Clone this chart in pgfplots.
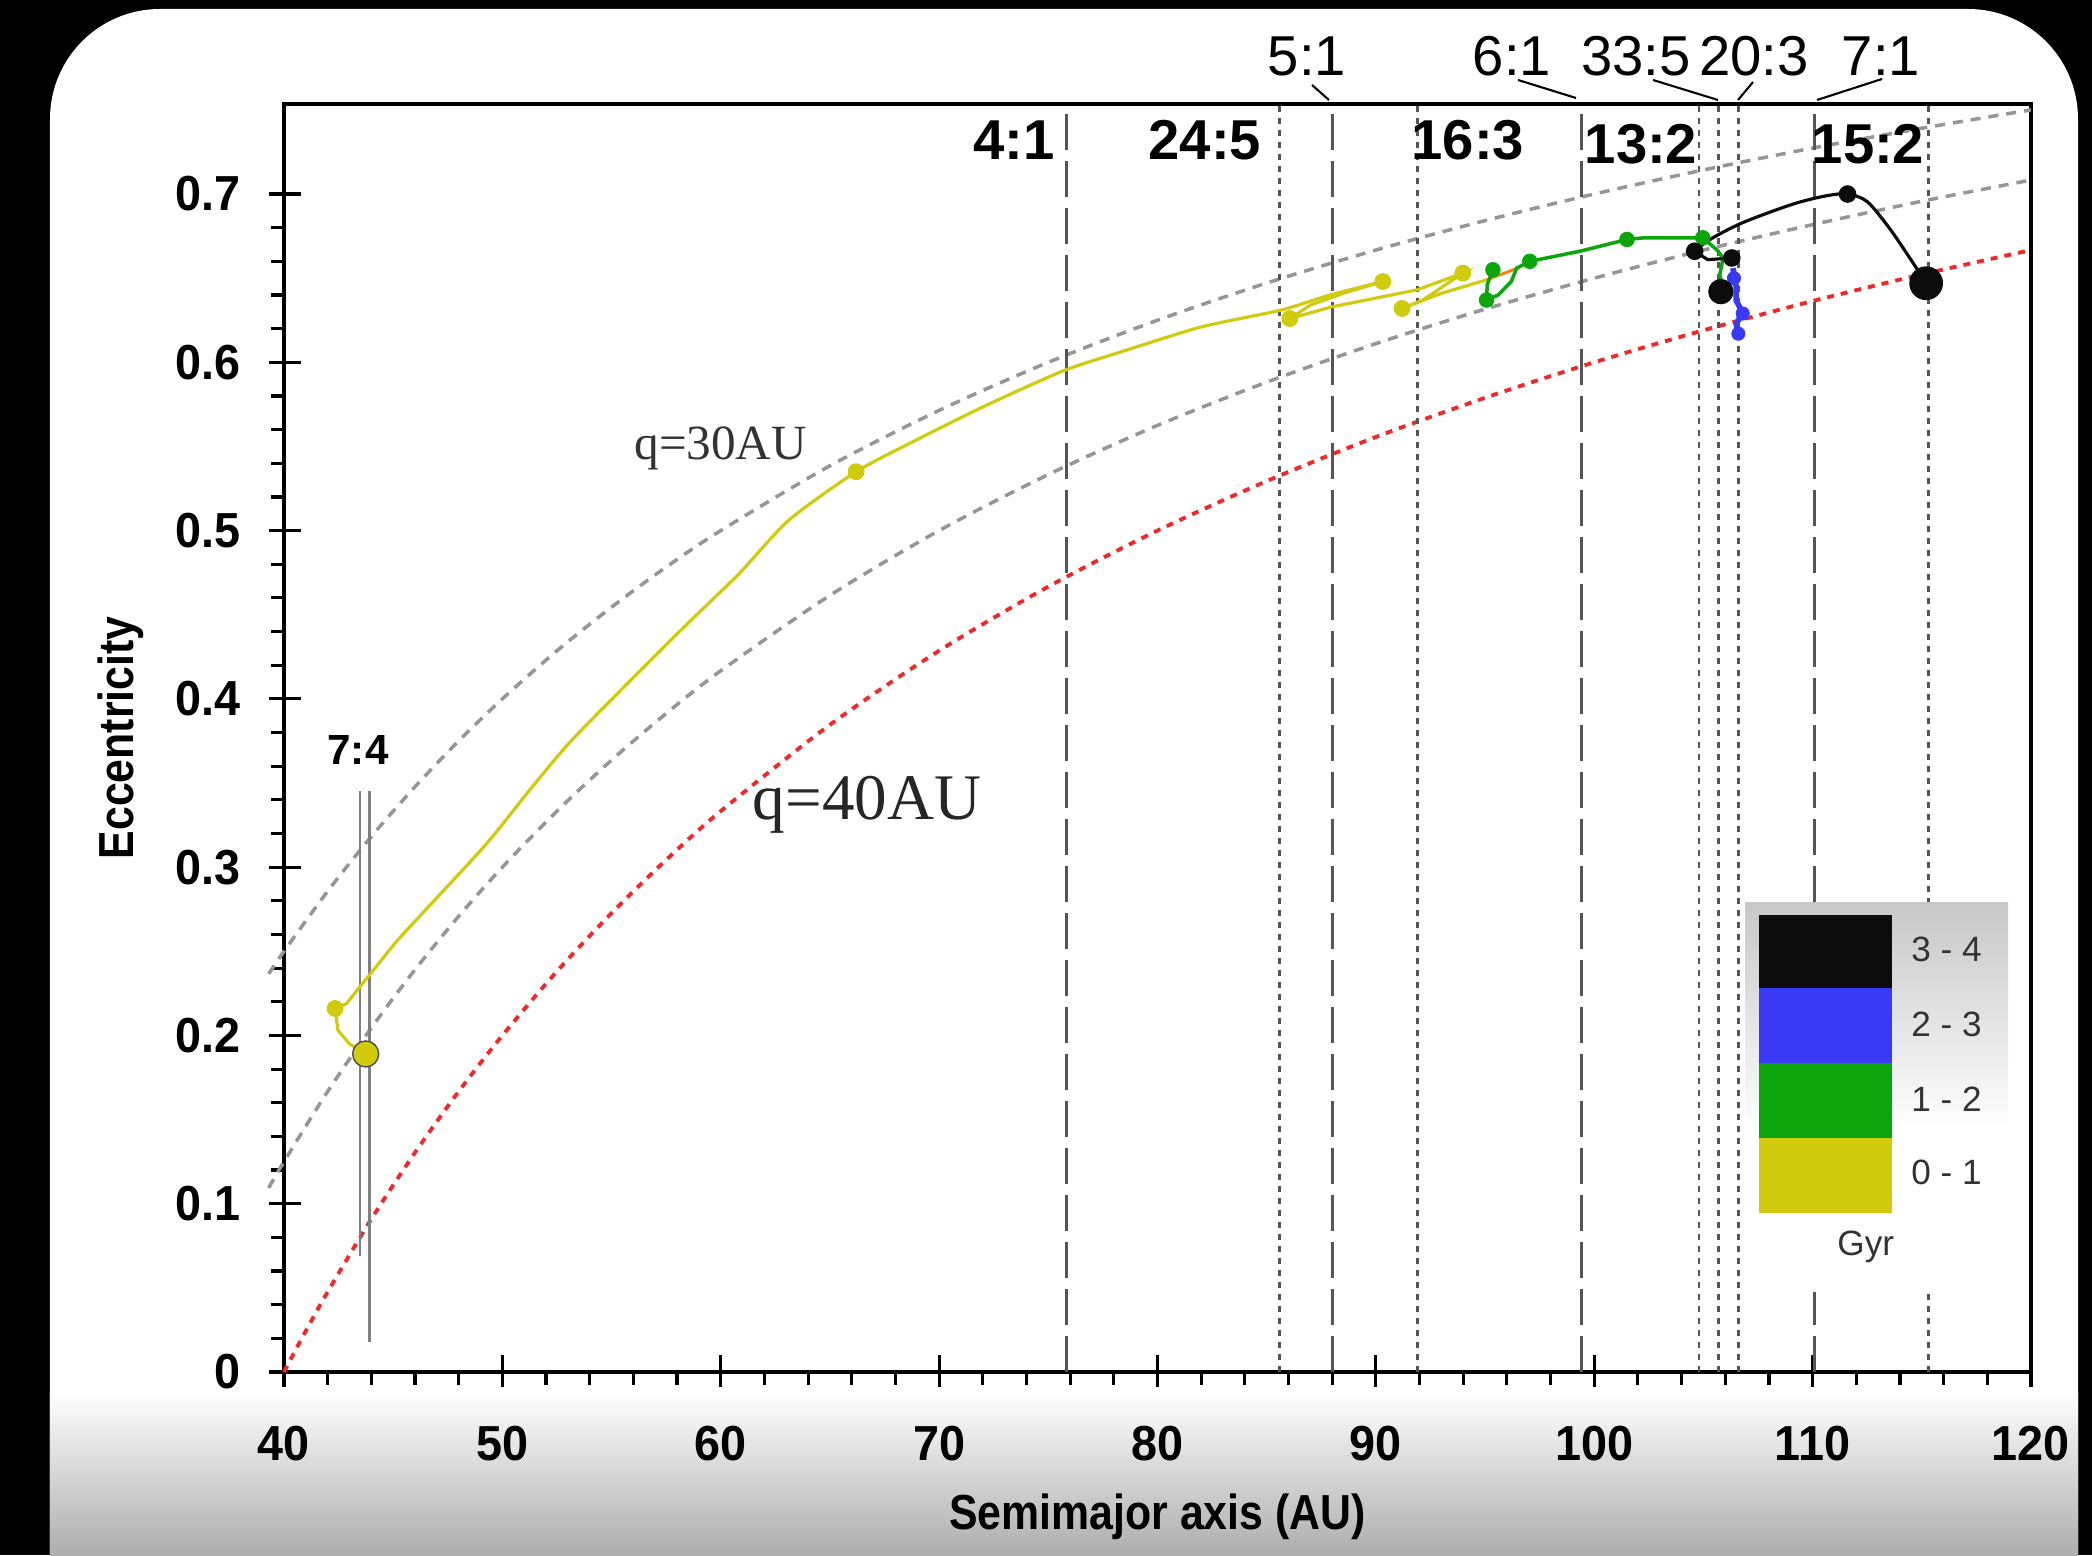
\documentclass[border=0pt]{standalone}
\usepackage{pgfplots}
\pgfplotsset{compat=1.18}
\usepackage{fontspec}
\setmainfont{Liberation Sans}
\newfontfamily\narrowsans[FakeStretch=0.87]{Liberation Sans}
\newfontfamily\ticksans[FakeStretch=0.95]{Liberation Sans}
\newfontfamily\timesq{Liberation Serif}
\definecolor{trkyellow}{RGB}{208,203,12}
\definecolor{trkgreen}{RGB}{12,165,12}
\definecolor{trkblue}{RGB}{58,58,245}
\definecolor{trkblack}{RGB}{12,12,12}
\definecolor{resgray}{RGB}{85,85,85}
\definecolor{qgray}{RGB}{150,150,150}
\definecolor{qred}{RGB}{240,40,40}
\begin{document}
\begin{tikzpicture}
% card on black page, grey fade at the bottom
\begin{scope}
\clip (-2.84,-1.83) rectangle (18.08,13.72);
\fill[black] (-2.84,-1.83) rectangle (18.08,13.72);
\fill[white, rounded corners=1.1cm] (-2.34,-3) rectangle (17.94,13.63);
\shade[top color=white, bottom color=black!32] (-2.34,-1.83) rectangle (17.94,-0.2);
\end{scope}
\begin{axis}[
    scale only axis,
    width=17.47cm, height=12.68cm,
    xmin=40, xmax=120, ymin=0, ymax=0.7535,
    clip=false,
    xtick={40,50,...,120},
    ytick={0,0.1,0.2,0.3,0.4,0.5,0.6,0.7},
    minor x tick num=4, minor y tick num=4,
    xtick pos=left, ytick pos=left,
    tick align=outside,
    major tick length=0.15cm, minor tick length=0.13cm,
    tick style={black, line width=0.9pt},
    axis line style={line width=1.2pt},
    extra x ticks={40,50,...,120}, extra x tick labels={},
    extra y ticks={0,0.1,0.2,0.3,0.4,0.5,0.6,0.7}, extra y tick labels={},
    extra tick style={tick align=inside, major tick length=0.17cm},
    /pgf/number format/fixed,
    /pgf/number format/assume math mode=true,
    ticklabel style={font=\ticksans\bfseries\fontsize{14}{16}\selectfont},
    xticklabel style={yshift=-0.27cm},
    yticklabel style={xshift=-0.16cm},
    xlabel={Semimajor axis (AU)},
    ylabel={Eccentricity},
    label style={font=\narrowsans\bfseries\fontsize{14}{16}\selectfont},
    xlabel style={at={(axis description cs:0.5,-0.114)}, anchor=center},
    ylabel style={at={(axis description cs:-0.0935,0.5)}, anchor=center},
]
% perihelion curves q = 30, 35, 40 AU
\addplot[qgray, line width=1pt, dash pattern=on 0.1cm off 0.08cm, smooth] coordinates {
 (39.3,0.2366) (40,0.25) (42,0.2857) (44,0.3182) (46,0.3478) (48,0.375) (50,0.4)
 (52.5,0.4286) (55,0.4545) (57.5,0.4783) (60,0.5) (65,0.5385) (70,0.5714) (75,0.6)
 (80,0.625) (85,0.6471) (90,0.6667) (95,0.6842) (100,0.7) (105,0.7143) (110,0.7273)
 (115,0.7391) (120,0.75)};
\addplot[qgray, line width=1pt, dash pattern=on 0.1cm off 0.08cm, smooth] coordinates {
 (39.3,0.1094) (40,0.125) (42,0.1667) (44,0.2045) (46,0.2391) (48,0.2708) (50,0.3)
 (52.5,0.3333) (55,0.3636) (57.5,0.3913) (60,0.4167) (65,0.4615) (70,0.5) (75,0.5333)
 (80,0.5625) (85,0.5882) (90,0.6111) (95,0.6316) (100,0.65) (105,0.6667) (110,0.6818)
 (115,0.6957) (120,0.7083)};
\addplot[qred, line width=1.1pt, dash pattern=on 0.07cm off 0.07cm, smooth] coordinates {
 (40,0) (41,0.0244) (42,0.0476) (44,0.0909) (46,0.1304) (48,0.1667) (50,0.2)
 (52.5,0.2381) (55,0.2727) (57.5,0.3043) (60,0.3333) (65,0.3846) (70,0.4286) (75,0.4667)
 (80,0.5) (85,0.5294) (90,0.5556) (95,0.5789) (100,0.6) (105,0.619) (110,0.6364)
 (115,0.6522) (120,0.6667)};
% resonances: long dashes
\addplot[resgray, line width=0.9pt, dash pattern=on 0.36cm off 0.11cm] coordinates {(75.85,0) (75.85,0.7535)};
\addplot[resgray, line width=0.9pt, dash pattern=on 0.36cm off 0.11cm] coordinates {(88.0,0) (88.0,0.7535)};
\addplot[resgray, line width=0.9pt, dash pattern=on 0.36cm off 0.11cm] coordinates {(99.4,0) (99.4,0.7535)};
\addplot[resgray, line width=0.9pt, dash pattern=on 0.36cm off 0.11cm] coordinates {(110.1,0) (110.1,0.7535)};
% resonances: dotted
\addplot[resgray, line width=0.8pt, dash pattern=on 0.06cm off 0.06cm] coordinates {(85.6,0) (85.6,0.7535)};
\addplot[resgray, line width=0.8pt, dash pattern=on 0.06cm off 0.06cm] coordinates {(91.9,0) (91.9,0.7535)};
\addplot[resgray, line width=0.8pt, dash pattern=on 0.06cm off 0.06cm] coordinates {(104.8,0) (104.8,0.7535)};
\addplot[resgray, line width=0.8pt, dash pattern=on 0.06cm off 0.06cm] coordinates {(105.7,0) (105.7,0.7535)};
\addplot[resgray, line width=0.8pt, dash pattern=on 0.06cm off 0.06cm] coordinates {(106.6,0) (106.6,0.7535)};
\addplot[resgray, line width=0.8pt, dash pattern=on 0.06cm off 0.06cm] coordinates {(115.3,0) (115.3,0.7535)};
% 7:4 libration range
\addplot[black!50, line width=0.8pt] coordinates {(43.48,0.069) (43.48,0.345)};
\addplot[black!50, line width=0.8pt] coordinates {(43.91,0.018) (43.91,0.345)};
% yellow track (0-1 Gyr)
\addplot[trkyellow, line width=0.9pt] coordinates {
 (43.74,0.189) (43.0,0.195) (42.47,0.203) (42.34,0.216) (42.87,0.219) (43.48,0.229)};
\addplot[trkyellow, line width=0.9pt, smooth, tension=0.4] coordinates {
 (43.48,0.229) (44.17,0.240) (45.16,0.256) (46.37,0.273) (49.28,0.314) (51.26,0.346)
 (53.29,0.377) (58.03,0.439) (60.81,0.474) (63.1,0.506) (66.2,0.535) (68.98,0.554)
 (72.25,0.575) (75.7,0.595) (78.28,0.606) (82.0,0.621) (85.65,0.631) (87.9,0.640)
 (90.32,0.648)};
\addplot[trkyellow, line width=0.9pt] coordinates {
 (90.32,0.648) (88.5,0.641) (87.0,0.634) (86.06,0.626) (88.0,0.633) (91.87,0.643)
 (93.98,0.653) (92.15,0.637) (91.2,0.632) (93.0,0.641) (95.07,0.649)};
\addplot[only marks, mark=*, mark size=2.2pt, trkyellow] coordinates {
 (42.34,0.216) (66.2,0.535) (90.32,0.648) (86.06,0.626) (93.98,0.653) (91.2,0.632)};
\addplot[only marks, mark=*, mark size=3.7pt, fill=trkyellow, draw=black!70] coordinates {(43.74,0.189)};
\addplot[orange, line width=0.8pt] coordinates {(95.07,0.649) (96.5,0.656)};
% green track (1-2 Gyr)
\addplot[trkgreen, line width=1pt] coordinates {
 (95.36,0.655) (95.1,0.646) (95.07,0.637) (95.6,0.640) (96.2,0.648) (96.45,0.656)
 (97.05,0.660) (99.34,0.666) (101.5,0.673) (102.3,0.674) (104.5,0.674) (104.97,0.674)
 (105.6,0.667) (105.9,0.662) (105.75,0.652) (105.9,0.645) (106.2,0.640)};
\addplot[only marks, mark=*, mark size=2pt, trkgreen] coordinates {
 (95.36,0.655) (95.07,0.637) (97.05,0.660) (101.5,0.673) (104.97,0.674)};
% blue track (2-3 Gyr)
\addplot[trkblue, line width=1.6pt] coordinates {
 (106.35,0.656) (106.5,0.645) (106.5,0.637) (106.8,0.629) (106.5,0.623) (106.6,0.617)};
\addplot[only marks, mark=*, mark size=1.8pt, trkblue] coordinates {
 (106.4,0.650) (106.8,0.629) (106.6,0.617)};
% black track (3-4 Gyr)
\addplot[trkblack, line width=0.9pt, smooth] coordinates {
 (104.6,0.666) (105.3,0.673) (106.8,0.683) (109.1,0.694) (110.65,0.699) (111.6,0.700)
 (112.5,0.6955) (113.5,0.680) (114.45,0.662) (115.2,0.647)};
\addplot[trkblack, line width=0.9pt] coordinates {(104.6,0.666) (105.2,0.661) (106.3,0.662)};
\addplot[only marks, mark=*, mark size=2.3pt, trkblack] coordinates {
 (104.6,0.666) (111.6,0.700) (106.3,0.662)};
\addplot[only marks, mark=*, mark size=3.4pt, trkblack] coordinates {(105.8,0.642)};
\addplot[only marks, mark=*, mark size=4.6pt, trkblack] coordinates {(115.2,0.647)};
% curve labels
\node[font=\timesq\fontsize{14}{16}\selectfont, text=black!80] at (axis cs:60,0.549) {q=30AU};
\node[font=\timesq\fontsize{18.5}{20}\selectfont, text=black!85] at (axis cs:66.7,0.337) {q=40AU};
\end{axis}
% colour key for the age in Gyr
\shade[top color=black!22, bottom color=white] (14.61,2.4) rectangle (17.24,4.70);
\fill[white] (14.61,0.80) rectangle (17.24,2.4);
\fill[trkblack] (14.75,3.84) rectangle (16.08,4.57);
\fill[trkblue] (14.75,3.09) rectangle (16.08,3.84);
\fill[trkgreen] (14.75,2.34) rectangle (16.08,3.09);
\fill[trkyellow] (14.75,1.59) rectangle (16.08,2.34);
\begin{scope}[every node/.style={anchor=west, font=\fontsize{10}{12}\selectfont, text=black!80}]
\node at (16.15,4.23) {3 - 4};
\node at (16.15,3.48) {2 - 3};
\node at (16.15,2.73) {1 - 2};
\node at (16.15,2.00) {0 - 1};
\node at (15.41,1.25) {Gyr};
\end{scope}
% resonance labels
\begin{scope}[every node/.style={font=\bfseries\fontsize{16}{18}\selectfont}]
\node at (7.30,12.32) {4:1};
\node at (9.21,12.32) {24:5};
\node at (11.84,12.32) {16:3};
\node at (13.57,12.28) {13:2};
\node at (15.84,12.28) {15:2};
\end{scope}
\node[font=\bfseries\fontsize{12}{14}\selectfont] at (0.74,6.22) {7:4};
\begin{scope}[every node/.style={font=\fontsize{16}{18}\selectfont}]
\node at (10.23,13.16) {5:1};
\node at (12.28,13.16) {6:1};
\node at (13.52,13.16) {33:5};
\node at (14.70,13.16) {20:3};
\node at (15.97,13.16) {7:1};
\end{scope}
\draw[line width=0.6pt] (10.28,12.87) -- (10.45,12.72);
\draw[line width=0.6pt] (12.34,12.92) -- (12.92,12.74);
\draw[line width=0.6pt] (13.69,12.92) -- (14.34,12.72);
\draw[line width=0.6pt] (14.69,12.90) -- (14.54,12.72);
\draw[line width=0.6pt] (15.98,12.93) -- (15.33,12.72);
\pgfresetboundingbox
\useasboundingbox (-2.84,-1.83) rectangle (18.08,13.72);
\end{tikzpicture}
\end{document}
